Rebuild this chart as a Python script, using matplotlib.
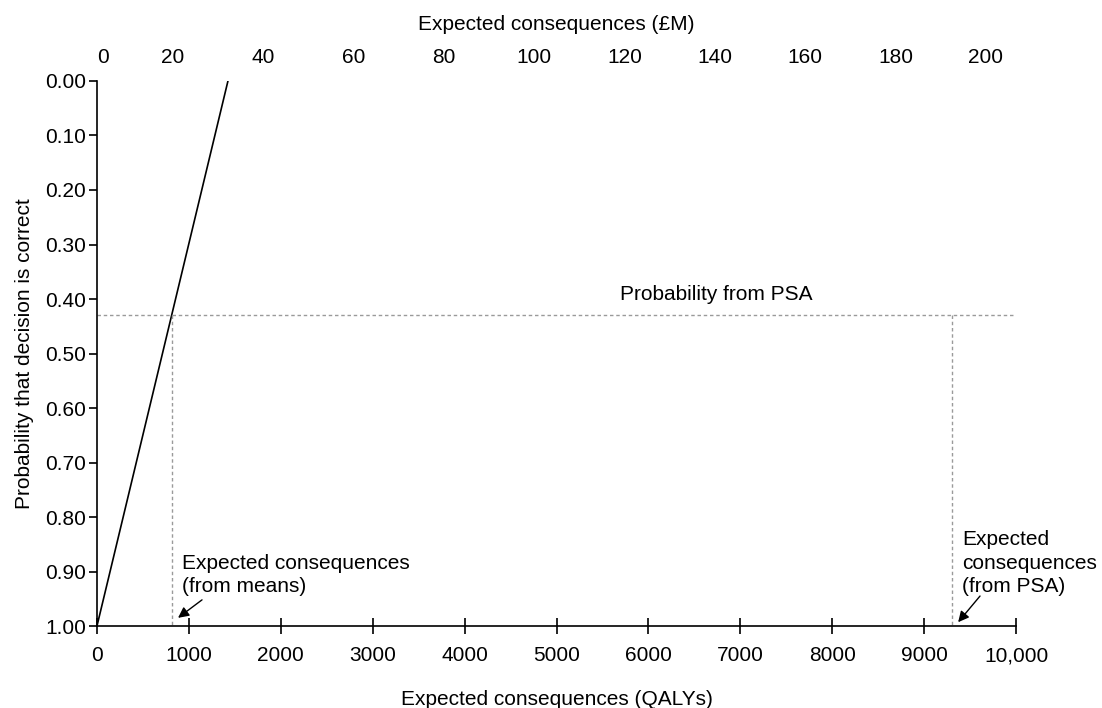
import matplotlib.pyplot as plt
import numpy as np

plt.rcParams['font.family'] = ['Liberation Sans', 'DejaVu Sans']
plt.rcParams['font.size'] = 15

# probability line: from certainty at zero QALYs up to zero probability
line_qalys = [0, 1425]
line_prob = [1.00, 0.00]

# probability from PSA and the two expected-consequence readings
psa_prob = 0.43
qalys_from_means = 812
qalys_from_psa = 9300

y_ticks = np.arange(0, 1.01, 0.1)
x_ticks = np.arange(0, 10001, 1000)
x_labels = ['0', '1000', '2000', '3000', '4000', '5000', '6000', '7000', '8000', '9000', '10,000']
money_ticks = [0, 20, 40, 60, 80, 100, 120, 140, 160, 180, 200]

fig = plt.figure(figsize=(11.02, 7.08), dpi=100)
ax = fig.add_axes([0.088, 0.1158, 0.834, 0.7698])

ax.plot(line_qalys, line_prob, color='black', lw=1.2)

dot = dict(color='#9a9a9a', lw=1.0, linestyle=(0, (2.5, 2)))
ax.plot([0, 10000], [psa_prob, psa_prob], **dot)
ax.plot([qalys_from_means, qalys_from_means], [psa_prob, 1.0], **dot)
ax.plot([qalys_from_psa, qalys_from_psa], [psa_prob, 1.0], **dot)

ax.text(5690, psa_prob - 0.02, 'Probability from PSA', ha='left', va='bottom')

# labels with short arrows pointing at the readings on the x axis
arrow = dict(arrowstyle='-|>', color='black', lw=1.0, mutation_scale=16,
             shrinkA=0, shrinkB=0)
ax.text(930, 0.945, 'Expected consequences\n(from means)', ha='left', va='bottom',
        linespacing=1.3)
ax.annotate('', xy=(qalys_from_means + 70, 0.985), xytext=(1143, 0.952),
            arrowprops=arrow)
ax.text(9413, 0.945, 'Expected\nconsequences\n(from PSA)', ha='left', va='bottom',
        linespacing=1.3)
ax.annotate('', xy=(qalys_from_psa + 70, 0.993), xytext=(9608, 0.945),
            arrowprops=arrow)

ax.set_xlim(0, 10000)
ax.set_ylim(1.0, 0.0)
ax.set_xticks(x_ticks)
ax.set_xticklabels(x_labels)
ax.set_yticks(y_ticks)
ax.set_yticklabels([f'{v:.2f}' for v in y_ticks])
ax.tick_params(axis='x', direction='inout', length=11, width=1.2, pad=9)
ax.tick_params(axis='y', direction='out', length=6, width=1.2, pad=2)
for side in ['top', 'right']:
    ax.spines[side].set_visible(False)
for side in ['left', 'bottom']:
    ax.spines[side].set_linewidth(1.2)

ax.set_xlabel('Expected consequences (QALYs)', labelpad=18)
ax.set_ylabel('Probability that decision is correct', labelpad=8)

# money axis along the top, labels only
top = ax.twiny()
top_lo, top_hi = 3.2, 206.7
top.set_xlim(top_lo, top_hi)
top_pos = [max(v, top_lo + 1.3) for v in money_ticks]
top.set_xticks(top_pos)
top.set_xticklabels([str(v) for v in money_ticks])
top.tick_params(axis='x', length=0, pad=10)
for s in top.spines.values():
    s.set_visible(False)
top.set_xlabel('Expected consequences (£M)', labelpad=13)

fig.savefig('out.png', dpi=100)
